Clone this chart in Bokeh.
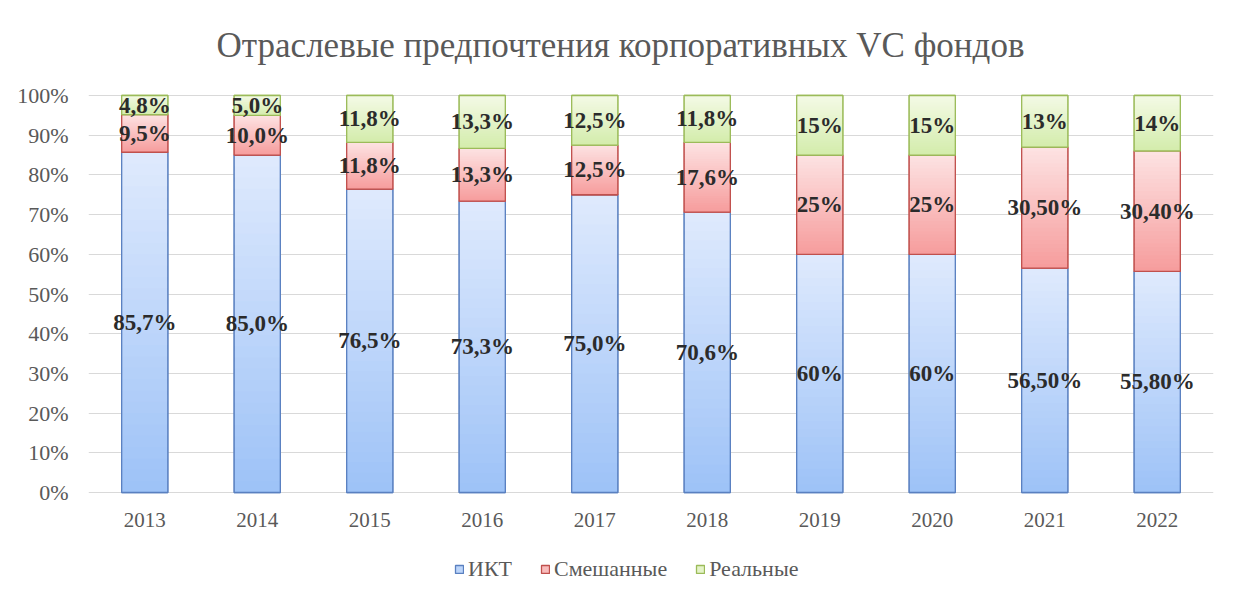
from bokeh.plotting import figure
from bokeh.models import (Range1d, FixedTicker, NumeralTickFormatter,
                          Legend, LegendItem, ColumnDataSource)
from bokeh.embed import file_html
from bokeh.resources import INLINE

# ---- data ----
years = ["2013", "2014", "2015", "2016", "2017", "2018", "2019", "2020", "2021", "2022"]
ikt = [85.7, 85.0, 76.5, 73.3, 75.0, 70.6, 60, 60, 56.5, 55.8]
mixed = [9.5, 10.0, 11.8, 13.3, 12.5, 17.6, 25, 25, 30.5, 30.4]
real = [4.8, 5.0, 11.8, 13.3, 12.5, 11.8, 15, 15, 13, 14]
ikt_labels = ["85,7%", "85,0%", "76,5%", "73,3%", "75,0%", "70,6%", "60%", "60%", "56,50%", "55,80%"]
mixed_labels = ["9,5%", "10,0%", "11,8%", "13,3%", "12,5%", "17,6%", "25%", "25%", "30,50%", "30,40%"]
real_labels = ["4,8%", "5,0%", "11,8%", "13,3%", "12,5%", "11,8%", "15%", "15%", "13%", "14%"]
series_names = ["ИКТ", "Смешанные", "Реальные"]
title_text = "Отраслевые предпочтения корпоративных VC фондов"
y_ticks = [0, 10, 20, 30, 40, 50, 60, 70, 80, 90, 100]

# styles: (top colour, bottom colour, mid colour, outline)
styles = [
    ("#dfeafd", "#9dc2f7", "#bcd5fa", "#5a80c0"),
    ("#fde3e3", "#f69c9c", "#f9bcbc", "#c0504d"),
    ("#f4fae6", "#d3ecab", "#e4f3c8", "#9bbb59"),
]

FONT = "Liberation Serif"

W, H = 1228, 590
LEFT, RIGHT = 88, 15
PX_PER_PCT = 3.97          # frame pixels per percentage point
ZERO_PX = 492              # pixel row of 0 %
y_lo = (ZERO_PX - H) / PX_PER_PCT
y_hi = ZERO_PX / PX_PER_PCT
PX_PER_CAT = (W - LEFT - RIGHT) / 10.0

p = figure(width=W, height=H, output_backend="svg", toolbar_location=None,
           x_range=Range1d(-0.5, 9.5), y_range=Range1d(y_lo, y_hi),
           x_axis_location=None,
           min_border_left=LEFT, min_border_right=RIGHT, min_border_top=0,
           min_border_bottom=0)
p.outline_line_color = None
p.background_fill_color = "white"
p.border_fill_color = "white"

# y axis
p.yaxis.ticker = FixedTicker(ticks=y_ticks)
p.yaxis.formatter = NumeralTickFormatter(format="0")
p.yaxis.major_label_overrides = {t: f"{t}%" for t in y_ticks}
p.yaxis.axis_line_color = None
p.yaxis.major_tick_line_color = None
p.yaxis.minor_tick_line_color = None
p.yaxis.major_label_text_font = FONT
p.yaxis.major_label_text_color = "#595959"
p.yaxis.major_label_text_font_size = "22px"
p.yaxis.major_label_standoff = 14
p.xgrid.grid_line_color = None
p.ygrid.grid_line_color = "#d9d9d9"
p.ygrid.grid_line_width = 1

# normalise to 100% like a 100%-stacked chart
totals = [a + b + c for a, b, c in zip(ikt, mixed, real)]
shares = [[v / t * 100 for v, t in zip(s, totals)] for s in (ikt, mixed, real)]

xs = list(range(len(years)))
BW = 0.41
N = 30

def hex2rgb(h):
    return tuple(int(h[i:i + 2], 16) for i in (1, 3, 5))

def mix(c1, c2, f):
    a, b = hex2rgb(c1), hex2rgb(c2)
    return "#%02x%02x%02x" % tuple(round(a[i] + (b[i] - a[i]) * f) for i in range(3))

legend_items = []
base = [0.0] * len(years)
seg_bounds = []
for si, sh in enumerate(shares):
    top_c, bot_c, mid_c, line_c = styles[si]
    bottoms = base[:]
    tops = [b + v for b, v in zip(bottoms, sh)]
    seg_bounds.append((bottoms, tops))
    r = p.vbar(x=xs, width=BW, bottom=bottoms, top=tops, fill_color=mid_c,
               line_color=line_c, line_width=1.3)
    legend_items.append(LegendItem(label=series_names[si], renderers=[r]))
    sx, sb, st, sc = [], [], [], []
    for i in xs:
        h = tops[i] - bottoms[i]
        for k in range(N):
            sx.append(i)
            sb.append(bottoms[i] + h * k / N)
            st.append(min(tops[i], bottoms[i] + h * (k + 1.6) / N))
            sc.append(mix(bot_c, top_c, (k + 0.5) / N))
    src = ColumnDataSource(dict(x=sx, b=sb, t=st, c=sc))
    p.vbar(x="x", width=BW, bottom="b", top="t", fill_color="c", line_color=None,
           source=src)
    p.vbar(x=xs, width=BW, bottom=bottoms, top=tops, fill_color=None,
           line_color=line_c, line_width=1.3)
    base = tops

# data labels
for (bottoms, tops), labs in zip(seg_bounds, (ikt_labels, mixed_labels, real_labels)):
    ys = [(b + t) / 2 for b, t in zip(bottoms, tops)]
    p.text(x=xs, y=ys, text=labs, text_align="center", text_baseline="middle",
           text_font={"value": FONT}, text_font_style="bold",
           text_font_size="23px", text_color="#2b2b2b")

# category labels (x axis)
p.text(x=xs, y=[(ZERO_PX - 519) / PX_PER_PCT] * len(xs), text=years,
       text_align="center", text_baseline="middle", text_font={"value": FONT},
       text_font_size="21px", text_color="#595959")

# title (centred on the whole chart)
title_x = (620 - LEFT) / PX_PER_CAT - 0.5
p.text(x=[title_x], y=[(ZERO_PX - 45) / PX_PER_PCT], text=[title_text],
       text_align="center", text_baseline="middle", text_font={"value": FONT},
       text_font_size="35px", text_color="#595959")

legend = Legend(items=legend_items, orientation="horizontal", location=(366, 8),
                label_text_font=FONT, label_text_font_size="22px",
                label_text_color="#595959", glyph_width=10, glyph_height=10,
                spacing=28, label_standoff=4, border_line_color=None,
                background_fill_alpha=0, padding=4, margin=0)
p.add_layout(legend)

open("out.html", "w").write(file_html(p, INLINE))
